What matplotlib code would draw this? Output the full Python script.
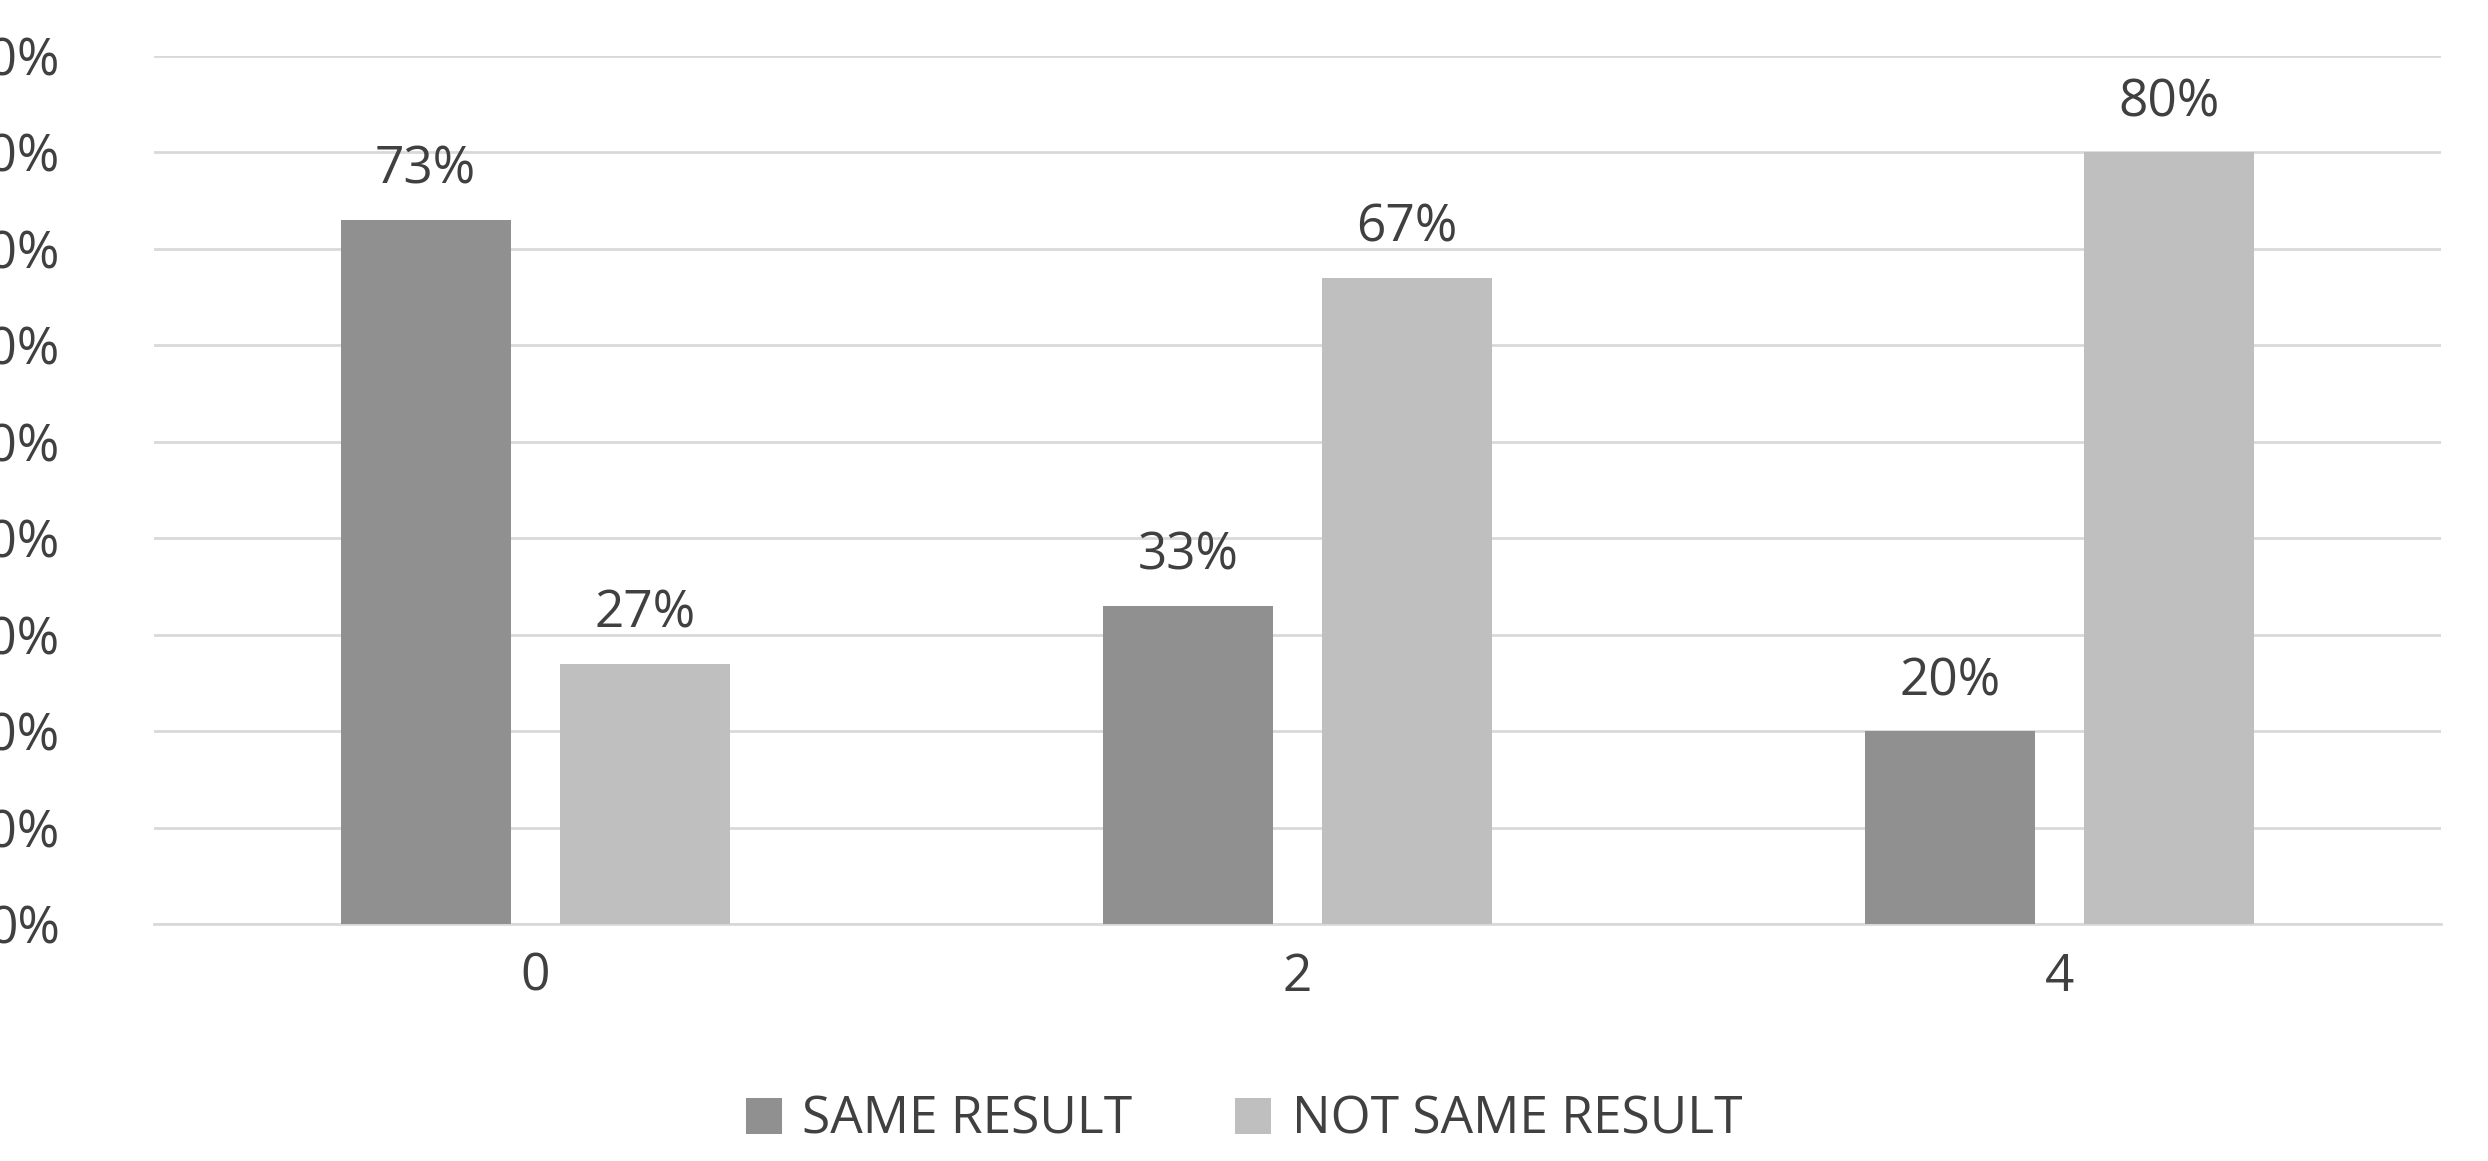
import matplotlib
matplotlib.use("Agg")
import matplotlib.pyplot as plt
import numpy as np

plt.rcParams['font.family'] = ['Open Sans', 'DejaVu Sans']

categories = ["0", "2", "4"]
same = [73, 33, 20]
not_same = [27, 67, 80]
yticks = [0, 10, 20, 30, 40, 50, 60, 70, 80, 90]

fig = plt.figure(figsize=(24.88, 11.61), dpi=100)
ax = fig.add_axes([0.062, 0.204, 0.919, 0.748])
x = np.arange(len(categories)) + 0.5
w = 0.223
off = 0.144
c1, c2 = "#909090", "#bfbfbf"
b1 = ax.bar(x - off, same, w, color=c1, label="SAME RESULT", zorder=3)
b2 = ax.bar(x + off, not_same, w, color=c2, label="NOT SAME RESULT", zorder=3)
tc = "#404040"
fs = 37
for bars, vals in ((b1, same), (b2, not_same)):
    for r, v in zip(bars, vals):
        ax.text(r.get_x() + r.get_width() / 2, v + 2.5, f"{v}%", ha="center",
                va="bottom", fontsize=fs, color=tc)
ax.set_xlim(0, 3)
ax.set_ylim(0, 90)
ax.set_xticks(x)
ax.set_xticklabels(categories, fontsize=fs, color=tc)
ax.set_yticks(yticks)
ax.set_yticklabels([f"{v}%" for v in yticks], fontsize=fs, color=tc)
ax.tick_params(axis="y", length=0, pad=68)
ax.tick_params(axis="x", length=0, pad=20)
ax.grid(axis="y", color="#d9d9d9", linewidth=2, zorder=0)
for s in ("top", "right", "left"):
    ax.spines[s].set_visible(False)
ax.spines["bottom"].set_color("#d9d9d9")
ax.spines["bottom"].set_linewidth(2)
fig.legend(handles=[b1, b2], loc="center", bbox_to_anchor=(0.5, 0.035), ncol=2,
           frameon=False, fontsize=fs, labelcolor=tc, handlelength=0.7,
           handleheight=0.7, columnspacing=2.0, handletextpad=0.4)
fig.savefig("out.png", dpi=100)
